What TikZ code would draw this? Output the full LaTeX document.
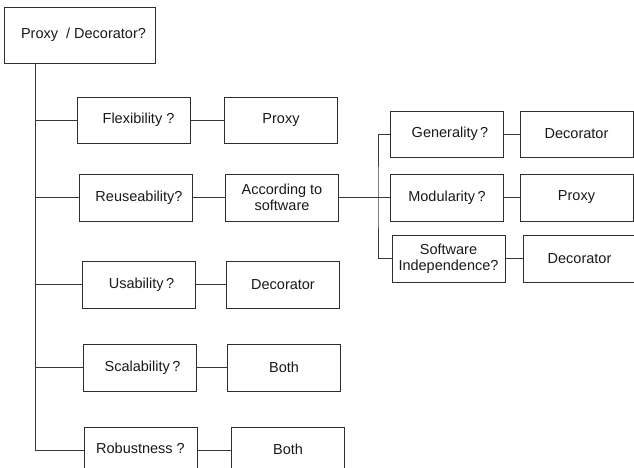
\documentclass[tikz,border=0pt]{standalone}
\usepackage{fontspec}
\setmainfont{Liberation Sans}
\begin{document}
\begin{tikzpicture}[x=1pt,y=-1pt,
  every node/.style={font=\fontsize{14.5}{16}\selectfont, text=black!90},
  box/.style={draw=black!82, line width=1pt, rectangle, inner sep=0pt,
    minimum width=113pt, minimum height=46pt, align=center},
  wire/.style={draw=black!78, line width=1pt}]
\useasboundingbox (0,0) rectangle (634,467);
\begin{scope}
\clip (0,0) rectangle (634,467);

% root of the decision tree
\node[box, minimum width=151pt, minimum height=56pt] (root) at (79.5,35) {\hspace*{8pt}Proxy \ / Decorator?};
\coordinate (trunk) at (35,63);

% left column of questions and answers
\node[box] (flex)   at (133.5,120)  {\hspace*{10pt}\raisebox{2pt}{Flexibility ?}};
\node[box] (proxyA) at (281,120)    {\raisebox{2pt}{Proxy}};
\node[box, minimum height=47pt] (reuse)  at (136,197.5) {\hspace*{6pt}Reuseability?};
\node[box, minimum height=47pt] (accord) at (282,197.5) {According to\\software};
\node[box, minimum height=47pt] (usab)   at (138.5,284.5) {\hspace*{6pt}Usability\,?};
\node[box, minimum height=47pt] (decC)   at (283,284.5)   {Decorator};
\node[box, minimum height=47pt] (scal)   at (139.5,367.5) {\hspace*{6pt}Scalability\,?};
\node[box, minimum height=47pt] (bothA)  at (284,367.5)   {Both};
\node[box, minimum height=47pt] (rob)    at (140.5,450.5) {\raisebox{4pt}{Robustness ?}};
\node[box, minimum height=47pt] (bothB)  at (288,450.5)   {\raisebox{2pt}{Both}};

% right column: sub-questions of reuseability
\node[box] (gen)  at (447,134)   {\hspace*{6pt}\raisebox{2pt}{Generality\,?}};
\node[box] (decA) at (576.5,134) {Decorator};
\node[box, minimum height=47pt] (mod)  at (447,197.5)   {Modularity\,?};
\node[box, minimum height=47pt] (proxyB) at (576.5,197.5) {Proxy};
\node[box, minimum height=47pt] (soft) at (448.5,258.5) {Software\\Independence?};
\node[box, minimum height=47pt] (decB) at (579.5,258.5) {Decorator};
\coordinate (branch) at (378,197.5);

% trunk with its branches
\draw[wire] (trunk) |- (flex.west);
\draw[wire] (trunk) |- (reuse.west);
\draw[wire] (trunk) |- (usab.west);
\draw[wire] (trunk) |- (scal.west);
\draw[wire] (trunk) |- (rob.west);

% question to answer links
\draw[wire] (flex) -- (proxyA);
\draw[wire] (reuse) -- (accord);
\draw[wire] (usab) -- (decC);
\draw[wire] (scal) -- (bothA);
\draw[wire] (rob) -- (bothB);
\draw[wire] (accord.east) -- (mod.west);
\draw[wire] (gen.west) -| (branch) |- (soft.west);
\draw[wire] (gen) -- (decA);
\draw[wire] (mod) -- (proxyB);
\draw[wire] (soft) -- (decB);
\end{scope}
\end{tikzpicture}
\end{document}
